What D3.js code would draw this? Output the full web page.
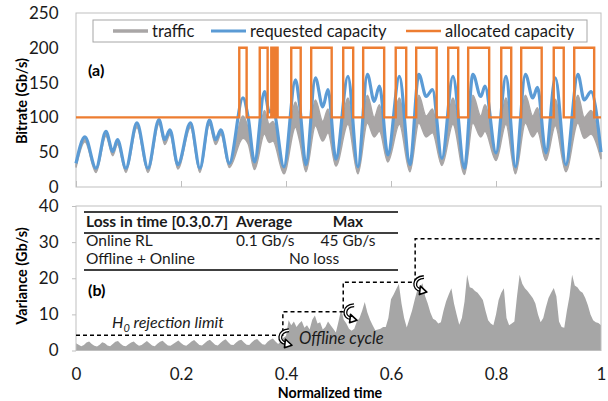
<!DOCTYPE html>
<html>
<head>
<meta charset="utf-8">
<script src="https://cdn.jsdelivr.net/npm/d3@7"></script>
<style>
  body { margin: 0; background: #fff; }
  svg { font-family: Lato, "Open Sans", sans-serif; }
</style>
</head>
<body>
<div id="chart-area"></div>
<script>

// ---- data ----
var timeTicks = [0, 0.2, 0.4, 0.6, 0.8, 1];
var bitrateTicks = [0, 50, 100, 150, 200, 250];
var varianceTicks = [0, 10, 20, 30, 40];

// panel (a): key points of requested capacity and the traffic band
var reqTime = [0, 0.017, 0.038, 0.057, 0.070, 0.079, 0.095,
  0.116, 0.137, 0.158, 0.169, 0.179, 0.194,
  0.218, 0.236, 0.254, 0.266, 0.276, 0.292,
  0.318, 0.328, 0.340,
  0.359, 0.368, 0.375, 0.396,
  0.418, 0.426, 0.438,
  0.456, 0.470, 0.480, 0.495,
  0.518, 0.537,
  0.555, 0.568, 0.578, 0.594,
  0.616, 0.636,
  0.653, 0.667, 0.679, 0.697,
  0.718, 0.740,
  0.756, 0.771, 0.779, 0.800,
  0.819, 0.837,
  0.856, 0.870, 0.879, 0.895,
  0.913, 0.933,
  0.956, 0.968, 0.981, 1.0];

var requested = [34, 72, 27, 80, 51, 68, 27,
  92, 27, 97, 68, 82, 32,
  92, 27, 96, 68, 82, 34,
  128, 100, 36,
  137, 108, 112, 29,
  154, 118, 32,
  157, 115, 140, 40,
  159, 29,
  162, 123, 145, 46,
  159, 32,
  162, 130, 140, 41,
  159, 27,
  162, 130, 145, 49,
  159, 29,
  162, 128, 143, 49,
  157, 32,
  162, 125, 137, 50];

var trafficHigh = [32, 70, 25, 78, 49, 66, 25,
  90, 25, 95, 66, 80, 30,
  90, 25, 94, 66, 80, 32,
  102, 84, 34,
  110, 90, 94, 27,
  122, 97, 30,
  125, 94, 112, 38,
  128, 27,
  132, 100, 118, 44,
  128, 30,
  132, 102, 112, 39,
  128, 25,
  132, 102, 118, 46,
  128, 27,
  132, 102, 114, 46,
  126, 30,
  132, 100, 110, 47];

var trafficLow = [28, 65, 21, 73, 45, 61, 21,
  85, 21, 90, 61, 75, 26,
  85, 21, 89, 61, 75, 28,
  70, 62, 25,
  76, 64, 66, 19,
  86, 66, 22,
  88, 66, 78, 30,
  90, 19,
  92, 72, 80, 36,
  90, 22,
  92, 72, 78, 31,
  90, 18,
  92, 72, 80, 38,
  90, 19,
  92, 72, 80, 38,
  88, 22,
  92, 70, 76, 40];

// allocated capacity: 100 Gb/s, raised to 200 Gb/s inside these windows
var allocLevels = [100, 200];
var allocStart = [0.311, 0.350, 0.372, 0.378, 0.382, 0.410, 0.448, 0.509, 0.547, 0.609,
  0.648, 0.709, 0.747, 0.810, 0.848, 0.910, 0.949];
var allocEnd = [0.325, 0.365, 0.375, 0.380, 0.384, 0.428, 0.487, 0.528, 0.587, 0.629,
  0.687, 0.728, 0.787, 0.829, 0.887, 0.929, 0.987];

// panel (b): variance, one value every 0.005 of normalized time
var varStep = 0.005;
var variance = [
  2.0, 1.6, 1.2, 1.5, 2.2, 2.5, 1.8, 1.3, 1.1, 1.6,
  2.3, 2.0, 1.4, 1.2, 1.8, 2.4, 2.6, 1.9, 1.3, 1.2,
  1.7, 2.2, 2.5, 1.8, 1.3, 1.5, 2.1, 2.6, 2.0, 1.4,
  1.2, 1.9, 2.4, 2.7, 2.0, 1.4, 1.3, 1.8, 2.3, 2.8,
  2.1, 1.5, 1.3, 1.9, 2.5, 2.9, 2.2, 1.5, 1.4, 2.0,
  2.6, 3.0, 2.3, 1.6, 1.4, 2.1, 2.7, 3.1, 2.3, 1.6,
  1.5, 2.2, 2.8, 3.0, 2.2, 1.6, 1.5, 2.3, 2.9, 3.2,
  2.4, 1.7, 1.6, 2.4, 3.0, 3.3, 2.5, 1.8, 2.5, 3.5,
  4.0, 8.4, 7.0, 8.0, 6.5, 7.5, 8.2, 6.3, 7.0, 5.8,
  8.5, 9.7, 7.5, 7.8, 5.8, 6.5, 8.0, 7.0, 6.0, 5.0,
  8.0, 11.4, 8.5, 7.5, 6.0, 5.5, 6.0, 8.0, 9.0, 11.0,
  13.4, 10.5, 8.5, 7.0, 5.6, 5.8, 6.0, 6.5, 6.5, 9.0,
  14.2, 15.5, 17.0, 18.4, 13.0, 9.0, 6.4, 8.7, 11.0, 14.0,
  16.7, 17.5, 18.6, 15.0, 13.0, 10.5, 8.8, 8.4, 7.5, 7.8,
  11.0, 13.6, 15.5, 17.2, 13.0, 10.0, 7.1, 9.0, 13.5, 21.0,
  17.5, 17.2, 16.5, 16.0, 15.0, 14.0, 11.0, 8.4, 7.5, 7.0,
  10.0, 14.0, 16.0, 17.2, 9.0, 7.0, 7.5, 8.0, 15.0, 21.0,
  18.5, 17.2, 16.5, 15.5, 14.5, 13.0, 10.0, 7.8, 9.0, 12.0,
  14.5, 16.0, 17.3, 15.0, 8.0, 6.5, 6.3, 11.0, 15.0, 21.0,
  18.0, 17.5, 16.5, 16.0, 14.5, 12.5, 10.0, 8.4, 7.8, 7.6,
  7.0];

// H0 rejection limit (dashed staircase) and offline cycles
var limitTime = [0, 0.394, 0.394, 0.509, 0.509, 0.646, 0.646, 1];
var limitValue = [4.2, 4.2, 10.7, 10.7, 18.9, 18.9, 30.9, 30.9];
var cycleTime = [0.398, 0.522, 0.655];
var cycleValue = [3.4, 10.3, 18.1];

// loss table
var tableHeader = ["Loss in time [0.3,0.7]", "Average", "Max"];
var tableRows = [["Online RL", "0.1 Gb/s", "45 Gb/s"], ["Offline + Online", "No loss"]];

var legendNames = ["traffic", "requested capacity", "allocated capacity"];

// ---- layout ----
var width = 608, height = 401;
var colGrey = "#a9a6a6", colBlue = "#5b9bd5", colOrange = "#ed7d31";

var svg = d3.select("#chart-area").append("svg")
  .attr("width", width)
  .attr("height", height);

var x = d3.scaleLinear().domain([0, 1]).range([76, 601]);
var yTop = d3.scaleLinear().domain([0, 250]).range([187, 13]);
var yBot = d3.scaleLinear().domain([0, 40]).range([350.5, 206]);

// ---- panel (a) ----
var gA = svg.append("g");

gA.append("rect")
  .attr("x", 76).attr("y", 13)
  .attr("width", 525).attr("height", 174)
  .attr("fill", "none").attr("stroke", "#bfbfbf");

var trafficArea = d3.area()
  .x(function(d, i) { return x(reqTime[i]); })
  .y0(function(d, i) { return yTop(trafficLow[i]); })
  .y1(function(d, i) { return yTop(trafficHigh[i]); })
  .curve(d3.curveMonotoneX);

gA.append("path")
  .datum(reqTime)
  .attr("d", trafficArea)
  .attr("fill", colGrey)
  .attr("stroke", colGrey)
  .attr("stroke-width", 1.5);

var reqLine = d3.line()
  .x(function(d, i) { return x(reqTime[i]); })
  .y(function(d) { return yTop(d); })
  .curve(d3.curveMonotoneX);

gA.append("path")
  .datum(requested)
  .attr("d", reqLine)
  .attr("fill", "none")
  .attr("stroke", colBlue)
  .attr("stroke-width", 3.2);

// allocated capacity step line
var allocPoints = [[0, allocLevels[0]]];
allocStart.forEach(function(s, i) {
  allocPoints.push([s, allocLevels[0]], [s, allocLevels[1]],
    [allocEnd[i], allocLevels[1]], [allocEnd[i], allocLevels[0]]);
});
allocPoints.push([1, allocLevels[0]]);

gA.append("path")
  .datum(allocPoints)
  .attr("d", d3.line()
    .x(function(d) { return x(d[0]); })
    .y(function(d) { return yTop(d[1]); }))
  .attr("fill", "none")
  .attr("stroke", colOrange)
  .attr("stroke-width", 2.4);

// axes
var yAxisA = d3.axisLeft(yTop).tickValues(bitrateTicks).tickSize(0).tickPadding(17.5);
gA.append("g")
  .attr("transform", "translate(76,0)")
  .call(yAxisA)
  .call(function(g) { g.select(".domain").remove(); })
  .selectAll("text")
    .attr("font-size", "17px")
    .attr("font-family", "Lato")
    .attr("fill", "#1a1a1a");

var xAxisA = d3.axisBottom(x).tickValues(timeTicks).tickSizeInner(-6).tickSizeOuter(0).tickFormat("");
gA.append("g")
  .attr("transform", "translate(0,187)")
  .call(xAxisA)
  .call(function(g) { g.select(".domain").remove(); })
  .selectAll("line").attr("stroke", "#bfbfbf");

gA.append("text")
  .attr("transform", "translate(27,101) rotate(-90)")
  .attr("text-anchor", "middle")
  .attr("font-size", "14.5px")
  .attr("font-weight", "bold")
  .text("Bitrate (Gb/s)");

gA.append("text")
  .attr("x", 88).attr("y", 76)
  .attr("font-size", "16px")
  .attr("font-weight", "bold")
  .text("(a)");

// legend
var legend = gA.append("g");
legend.append("rect")
  .attr("x", 93).attr("y", 20)
  .attr("width", 494).attr("height", 22)
  .attr("fill", "#fff").attr("stroke", "#a6a6a6");

var legendX = [113, 211, 406];
var legendCol = [colGrey, colBlue, colOrange];
var legendW = [3.5, 3, 2.4];
legendNames.forEach(function(name, i) {
  legend.append("line")
    .attr("x1", legendX[i]).attr("x2", legendX[i] + 35)
    .attr("y1", 31).attr("y2", 31)
    .attr("stroke", legendCol[i])
    .attr("stroke-width", legendW[i]);
  legend.append("text")
    .attr("x", legendX[i] + 39).attr("y", 36.5)
    .attr("font-size", "16.5px")
    .attr("fill", "#1a1a1a")
    .text(name);
});

// ---- panel (b) ----
var gB = svg.append("g");

var varArea = d3.area()
  .x(function(d, i) { return x(i * varStep); })
  .y0(yBot(0))
  .y1(function(d) { return yBot(d); });

gB.append("path")
  .datum(variance)
  .attr("d", varArea)
  .attr("fill", "#a6a6a6");

gB.append("rect")
  .attr("x", 76).attr("y", 206)
  .attr("width", 525).attr("height", 144.5)
  .attr("fill", "none").attr("stroke", "#bfbfbf");

var yAxisB = d3.axisLeft(yBot).tickValues(varianceTicks).tickSize(4).tickPadding(13.5);
gB.append("g")
  .attr("transform", "translate(76,0)")
  .call(yAxisB)
  .call(function(g) {
    g.select(".domain").remove();
    g.selectAll("line").attr("stroke", "#bfbfbf");
  })
  .selectAll("text")
    .attr("font-size", "17px")
    .attr("font-family", "Lato")
    .attr("fill", "#1a1a1a");

var xAxisB = d3.axisBottom(x).tickValues(timeTicks).tickSize(0).tickPadding(17)
  .tickFormat(function(d) { return d; });
gB.append("g")
  .attr("transform", "translate(0,350.5)")
  .call(xAxisB)
  .call(function(g) { g.select(".domain").remove(); })
  .selectAll("text")
    .attr("font-size", "17px")
    .attr("font-family", "Lato")
    .attr("fill", "#1a1a1a");

gB.append("text")
  .attr("transform", "translate(27,276) rotate(-90)")
  .attr("text-anchor", "middle")
  .attr("font-size", "14.5px")
  .attr("font-weight", "bold")
  .text("Variance (Gb/s)");

gB.append("text")
  .attr("x", 330).attr("y", 398)
  .attr("text-anchor", "middle")
  .attr("font-size", "14.2px")
  .attr("font-weight", "bold")
  .text("Normalized time");

gB.append("text")
  .attr("x", 88).attr("y", 296)
  .attr("font-size", "16px")
  .attr("font-weight", "bold")
  .text("(b)");

// H0 limit staircase
gB.append("path")
  .datum(limitTime)
  .attr("d", d3.line()
    .x(function(d) { return x(d); })
    .y(function(d, i) { return yBot(limitValue[i]); }))
  .attr("fill", "none")
  .attr("stroke", "#000")
  .attr("stroke-width", 1.5)
  .attr("stroke-dasharray", "4,3");

var h0 = gB.append("text")
  .attr("x", 112).attr("y", 328)
  .attr("font-size", "16px")
  .attr("font-style", "italic")
  .attr("fill", "#1a1a1a");
h0.append("tspan").text("H");
h0.append("tspan").attr("font-size", "11px").attr("dy", 4).text("0");
h0.append("tspan").attr("dy", -4).text(" rejection limit");

gB.append("text")
  .attr("x", 299).attr("y", 344)
  .attr("font-size", "16.5px")
  .attr("font-style", "italic")
  .attr("fill", "#1a1a1a")
  .text("Offline cycle");

// curly arrows for offline cycles
cycleTime.forEach(function(t, i) {
  var cx = x(t), cy = yBot(cycleValue[i]);
  var p = "M" + (cx + 4) + "," + (cy - 8) +
    " C" + (cx - 7) + "," + (cy - 7) + " " + (cx - 7) + "," + (cy + 4) + " " + (cx + 1) + "," + (cy + 5);
  gB.append("path").attr("d", p)
    .attr("fill", "none").attr("stroke", "#000").attr("stroke-width", 4);
  gB.append("path").attr("d", p)
    .attr("fill", "none").attr("stroke", "#fff").attr("stroke-width", 1.4);
  gB.append("path")
    .attr("d", "M" + (cx + 7) + "," + (cy + 7) + " L" + (cx + 0.5) + "," + (cy + 1) +
      " L" + (cx - 0.5) + "," + (cy + 9.5) + " Z")
    .attr("fill", "#fff").attr("stroke", "#000").attr("stroke-width", 1.6)
    .attr("stroke-linejoin", "round");
});

// loss table
var table = gB.append("g").attr("font-size", "15.5px").attr("fill", "#1a1a1a");
[212, 233, 270].forEach(function(ly) {
  table.append("line")
    .attr("x1", 84).attr("x2", 398)
    .attr("y1", ly).attr("y2", ly)
    .attr("stroke", "#000").attr("stroke-width", 1.4);
});
var colX = [86, 236, 348];
var colAnchor = ["start", "start", "middle"];
tableHeader.forEach(function(h, i) {
  table.append("text")
    .attr("x", colX[i]).attr("y", 227)
    .attr("text-anchor", colAnchor[i])
    .attr("font-weight", "bold")
    .text(h);
});
tableRows[0].forEach(function(c, i) {
  table.append("text")
    .attr("x", colX[i]).attr("y", 246)
    .attr("text-anchor", colAnchor[i])
    .text(c);
});
table.append("text").attr("x", colX[0]).attr("y", 264).text(tableRows[1][0]);
table.append("text").attr("x", 314).attr("y", 264)
  .attr("text-anchor", "middle").text(tableRows[1][1]);

</script>
</body>
</html>
